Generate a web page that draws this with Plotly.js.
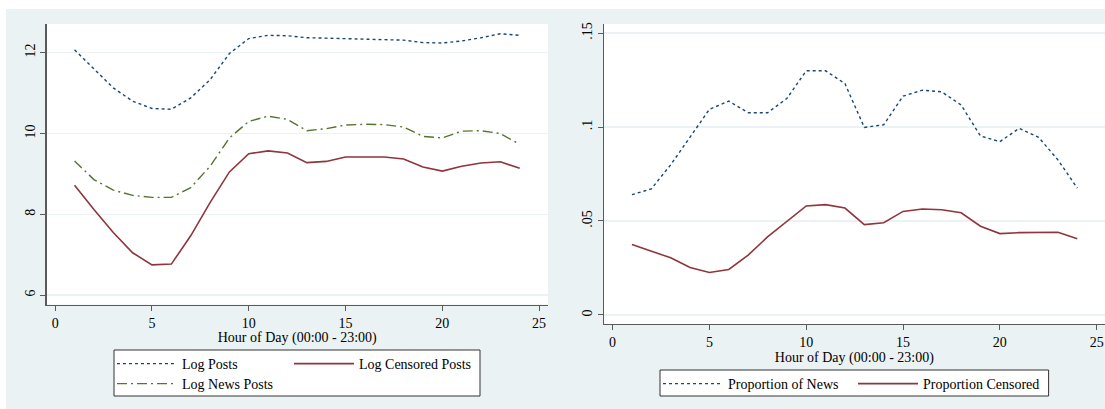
<!DOCTYPE html>
<html>
<head>
<meta charset="utf-8">
<script src="https://cdn.plot.ly/plotly-3.0.1.min.js"></script>
<style>html,body{margin:0;padding:0;background:#fff;}#chart{width:1105px;height:409px;}</style>
</head>
<body>
<div id="chart"></div>
<script>
// ---- data ----
const hours = [1,2,3,4,5,6,7,8,9,10,11,12,13,14,15,16,17,18,19,20,21,22,23,24];
const logPosts = [12.07,11.60,11.13,10.80,10.62,10.60,10.88,11.33,11.98,12.35,12.43,12.42,12.37,12.36,12.35,12.34,12.33,12.31,12.25,12.24,12.29,12.37,12.47,12.43];
const logNewsPosts = [9.32,8.86,8.60,8.47,8.42,8.42,8.66,9.19,9.89,10.30,10.43,10.35,10.07,10.12,10.21,10.23,10.22,10.16,9.93,9.89,10.06,10.07,10.00,9.73];
const logCensoredPosts = [8.72,8.12,7.55,7.05,6.75,6.77,7.47,8.29,9.05,9.50,9.57,9.52,9.28,9.31,9.42,9.42,9.42,9.37,9.17,9.07,9.19,9.27,9.30,9.14];
const propNews = [0.0640,0.0671,0.0799,0.0949,0.1094,0.1138,0.1076,0.1076,0.1152,0.1299,0.1299,0.1231,0.0998,0.1012,0.1164,0.1196,0.1187,0.1117,0.0952,0.0922,0.0993,0.0945,0.0825,0.0675];
const propCensored = [0.0375,0.0339,0.0304,0.0253,0.0226,0.0242,0.0318,0.0415,0.0500,0.0580,0.0587,0.0569,0.0481,0.0491,0.0551,0.0564,0.0560,0.0544,0.0472,0.0433,0.0438,0.0440,0.0440,0.0405];
const xTicks = [0,5,10,15,20,25];
const leftYTicks = [6,8,10,12];
const rightYTicks = [0,0.05,0.1,0.15];
const rightYTickText = ['0','.05','.1','.15'];
const xTitle = 'Hour of Day (00:00 - 23:00)';

// ---- style ----
const W = 1105, H = 409;
const NAVY = '#1a476f', MAROON = '#90353b', GREEN = '#55752f';
const BG = '#eaf2f3';
const FONT = {family: 'Liberation Serif, Times New Roman, serif', size: 14, color: '#000'};
const px = v => v / W;
const py = v => 1 - v / H;

const traces = [
  {x: hours, y: logPosts, name: 'Log Posts', mode: 'lines', xaxis: 'x', yaxis: 'y', legend: 'legend',
   line: {color: NAVY, width: 1.4, dash: '3px,3px'}},
  {x: hours, y: logCensoredPosts, name: 'Log Censored Posts', mode: 'lines', xaxis: 'x', yaxis: 'y', legend: 'legend2',
   line: {color: MAROON, width: 1.6}},
  {x: hours, y: logNewsPosts, name: 'Log News Posts', mode: 'lines', xaxis: 'x', yaxis: 'y', legend: 'legend3',
   line: {color: GREEN, width: 1.4, dash: '10px,4px,2px,4px'}},
  {x: hours, y: propNews, name: 'Proportion of News', mode: 'lines', xaxis: 'x2', yaxis: 'y2', legend: 'legend4',
   line: {color: NAVY, width: 1.4, dash: '3px,3px'}},
  {x: hours, y: propCensored, name: 'Proportion Censored', mode: 'lines', xaxis: 'x2', yaxis: 'y2', legend: 'legend5',
   line: {color: MAROON, width: 1.6}}
];

const axisCommon = {
  showline: true, linecolor: '#5a5a5a', linewidth: 1.2,
  ticks: 'outside', ticklen: 5, tickwidth: 1, tickcolor: '#5a5a5a',
  zeroline: false, tickfont: FONT, fixedrange: true
};
const xCommon = Object.assign({}, axisCommon, {
  tickmode: 'array', tickvals: xTicks, showgrid: false,
  title: {text: xTitle, font: FONT, standoff: 0}
});

function leg(x, y) {
  return {x: px(x), y: py(y), xanchor: 'left', yanchor: 'middle', orientation: 'v',
          bgcolor: 'rgba(0,0,0,0)', borderwidth: 0, font: FONT, itemwidth: 60,
          tracegroupgap: 0, itemclick: false, itemdoubleclick: false};
}

const layout = {
  width: W, height: H,
  margin: {l: 0, r: 0, t: 0, b: 0, pad: 0},
  paper_bgcolor: BG, plot_bgcolor: '#ffffff',
  font: FONT,
  showlegend: true,
  xaxis: Object.assign({}, xCommon, {domain: [px(46.5), px(548)], range: [-0.45, 25.46], anchor: 'y'}),
  yaxis: Object.assign({}, axisCommon, {domain: [py(304.5), py(24)], range: [5.77, 12.71], anchor: 'x',
    tickmode: 'array', tickvals: leftYTicks, tickangle: -90,
    showgrid: true, gridcolor: BG, gridwidth: 1.5}),
  xaxis2: Object.assign({}, xCommon, {domain: [px(603.7), 1], range: [-0.46, 25.43], anchor: 'y2'}),
  yaxis2: Object.assign({}, axisCommon, {domain: [py(324), py(24)], range: [-0.0048, 0.1548], anchor: 'x2',
    tickmode: 'array', tickvals: rightYTicks, ticktext: rightYTickText, tickangle: -90,
    showgrid: true, gridcolor: BG, gridwidth: 1.5}),
  legend: leg(112, 364),
  legend2: leg(289, 364),
  legend3: leg(112, 384),
  legend4: leg(658, 384),
  legend5: leg(853, 384),
  shapes: [
    // outer white frame strips
    {type: 'rect', xref: 'paper', yref: 'paper', x0: 0, x1: px(6), y0: 0, y1: 1, fillcolor: '#fff', line: {width: 0}, layer: 'below'},
    {type: 'rect', xref: 'paper', yref: 'paper', x0: 0, x1: 1, y0: py(9), y1: 1, fillcolor: '#fff', line: {width: 0}, layer: 'below'},
    // legend boxes
    {type: 'rect', xref: 'paper', yref: 'paper', x0: px(114), x1: px(480), y0: py(396), y1: py(350),
     fillcolor: '#fff', line: {color: '#333', width: 1}, layer: 'above'},
    {type: 'rect', xref: 'paper', yref: 'paper', x0: px(660), x1: px(1048.6), y0: py(396), y1: py(370),
     fillcolor: '#fff', line: {color: '#333', width: 1}, layer: 'above'}
  ]
};

Plotly.newPlot('chart', traces, layout, {staticPlot: true, displayModeBar: false});
</script>
</body>
</html>
